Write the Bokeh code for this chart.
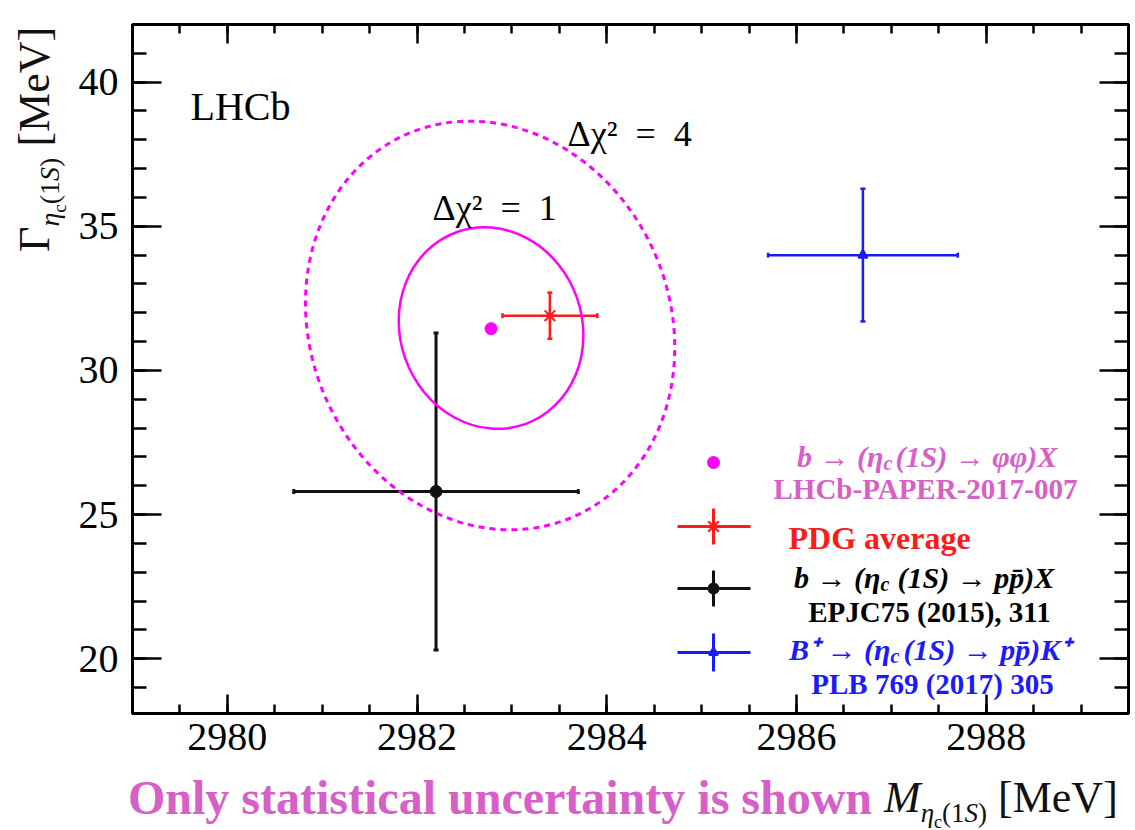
import math
from bokeh.plotting import figure
from bokeh.layouts import row, column
from bokeh.models import (ColumnDataSource, Whisker, TeeHead, Label, LinearAxis,
                          SingleIntervalTicker, Range1d, Div, CustomJSTickFormatter)
from bokeh.embed import file_html
from bokeh.resources import INLINE

# ---------------- data ----------------
X_RANGE = [2979.0, 2989.5]
Y_RANGE = [18.1, 42.0]
X_TICK_STEP = 2
Y_TICK_STEP = 5

# LHCb b -> (eta_c(1S) -> phi phi) X : best-fit point
LHCB_M = [2982.78]
LHCB_G = [31.45]

# PDG average
PDG_M = [2983.4]
PDG_M_ERR = [0.5]
PDG_G = [31.9]
PDG_G_ERR = [0.8]

# b -> (eta_c(1S) -> p pbar) X, EPJC75 (2015) 311
EPJC_M = [2982.2]
EPJC_M_ERR = [1.5]
EPJC_G = [25.8]
EPJC_G_ERR = [5.5]

# B+ -> (eta_c(1S) -> p pbar) K+, PLB 769 (2017) 305
PLB_M = [2986.7]
PLB_M_ERR = [1.0]
PLB_G = [34.0]
PLB_G_ERR = [2.3]

# Delta chi^2 contours: centre, full extent along M and Gamma axes, tilt
SP = "\u2002"
CONT_LABELS = ["Δχ²" + SP + "=" + SP + "1", "Δχ²" + SP + "=" + SP + "4"]
CONT_M = [2982.78, 2982.77]
CONT_G = [31.47, 31.56]
CONT_W = [1.92, 3.79]
CONT_H = [7.07, 14.48]
CONT_ANGLE = [0.34, 0.41]

# ---------------- colours ----------------
MAGENTA = "#ff00ff"
ORCHID = "#d660c8"
RED = "#ff1a1a"
BLUE = "#1a1aff"
BLACK = "#111111"

# ---------------- layout (page pixels) ----------------
W, H = 1135, 830
YDIV_W = 70          # column holding the rotated y title
PLOT_H = 773         # figure height; caption strip below
L, R, T, B = 132, 1128, 24, 713   # frame edges on the page


def px_x(px):
    return X_RANGE[0] + (px - L) * (X_RANGE[1] - X_RANGE[0]) / (R - L)


def px_y(py):
    return Y_RANGE[1] - (py - T) * (Y_RANGE[1] - Y_RANGE[0]) / (B - T)


p = figure(width=W - YDIV_W, height=PLOT_H,
           x_range=Range1d(*X_RANGE), y_range=Range1d(*Y_RANGE),
           output_backend="svg", toolbar_location=None,
           min_border_left=L - YDIV_W, min_border_right=W - R,
           min_border_top=T, min_border_bottom=PLOT_H - B)
p.grid.visible = False
p.outline_line_color = "black"
p.outline_line_width = 3
p.background_fill_color = "white"
p.border_fill_color = "white"


def style_axis(ax, major_in, minor_in, show_labels):
    ax.axis_line_color = "black"
    ax.axis_line_width = 3
    ax.major_tick_line_color = "black"
    ax.minor_tick_line_color = "black"
    ax.major_tick_line_width = 2.5
    ax.minor_tick_line_width = 2.5
    ax.major_tick_in = major_in
    ax.major_tick_out = 0
    ax.minor_tick_in = minor_in
    ax.minor_tick_out = 0
    if show_labels:
        ax.major_label_text_font = "Liberation Serif"
        ax.major_label_text_font_size = "40px"
        ax.major_label_text_color = "black"
    else:
        ax.formatter = CustomJSTickFormatter(code="return ''")
        ax.major_label_standoff = 0


p.xaxis.ticker = SingleIntervalTicker(interval=X_TICK_STEP, num_minor_ticks=4)
p.yaxis.ticker = SingleIntervalTicker(interval=Y_TICK_STEP, num_minor_ticks=5)
style_axis(p.xaxis[0], 19, 9, True)
style_axis(p.yaxis[0], 29, 14, True)
p.xaxis.major_label_standoff = 10
p.yaxis.major_label_standoff = 14

top_ax = LinearAxis(ticker=SingleIntervalTicker(interval=X_TICK_STEP, num_minor_ticks=4))
style_axis(top_ax, 19, 9, False)
p.add_layout(top_ax, "above")
right_ax = LinearAxis(ticker=SingleIntervalTicker(interval=Y_TICK_STEP, num_minor_ticks=5))
style_axis(right_ax, 29, 14, False)
p.add_layout(right_ax, "right")

# ---------------- contours ----------------
p.ellipse(x=[CONT_M[1]], y=[CONT_G[1]], width=[CONT_W[1]], height=[CONT_H[1]],
          angle=[CONT_ANGLE[1]], fill_color=None, line_color=MAGENTA,
          line_width=3, line_dash="6 5")
p.ellipse(x=[CONT_M[0]], y=[CONT_G[0]], width=[CONT_W[0]], height=[CONT_H[0]],
          angle=[CONT_ANGLE[0]], fill_color=None, line_color=MAGENTA,
          line_width=2.5)


# ---------------- error bars ----------------
def errbar(M, Me, G, Ge, color, lw, marker, msize):
    src = ColumnDataSource(dict(
        m=M, g=G,
        ml=[a - b for a, b in zip(M, Me)], mu=[a + b for a, b in zip(M, Me)],
        gl=[a - b for a, b in zip(G, Ge)], gu=[a + b for a, b in zip(G, Ge)]))
    for base, lo, up, dim in (("g", "ml", "mu", "width"), ("m", "gl", "gu", "height")):
        p.add_layout(Whisker(
            source=src, base=base, lower=lo, upper=up, dimension=dim,
            line_color=color, line_width=lw,
            upper_head=TeeHead(size=5, line_color=color, line_width=lw),
            lower_head=TeeHead(size=5, line_color=color, line_width=lw)))
    p.scatter("m", "g", source=src, marker=marker, size=msize,
              fill_color=color, line_color=color, line_width=2)


errbar(EPJC_M, EPJC_M_ERR, EPJC_G, EPJC_G_ERR, BLACK, 3, "circle", 11)
errbar(PLB_M, PLB_M_ERR, PLB_G, PLB_G_ERR, BLUE, 2.5, "triangle", 9)
errbar(PDG_M, PDG_M_ERR, PDG_G, PDG_G_ERR, RED, 2.5, "asterisk", 15)
p.scatter(LHCB_M, LHCB_G, marker="circle", size=12, color=MAGENTA)


# ---------------- text helper (inside the frame) ----------------
def label(px, py, text, size, color="black", style="normal", align="left",
          baseline="alphabetic", font="Liberation Serif"):
    p.add_layout(Label(x=px_x(px), y=px_y(py), text=text, text_font=font,
                       text_font_size=f"{size}px", text_color=color,
                       text_font_style=style, text_align=align,
                       text_baseline=baseline))


label(190, 106, "LHCb", 40)
label(432, 207, CONT_LABELS[0], 36)
label(567, 133, CONT_LABELS[1], 36)

# ---------------- legend (layout in page pixels) ----------------
LEG_X0, LEG_X1, LEG_XC = 677, 750, 713


def leg_sample(py, half_h, color, marker, msize, lw):
    if half_h:
        p.segment(x0=[px_x(LEG_X0)], y0=[px_y(py)], x1=[px_x(LEG_X1)], y1=[px_y(py)],
                  line_color=color, line_width=lw)
        p.segment(x0=[px_x(LEG_XC)], y0=[px_y(py - half_h)], x1=[px_x(LEG_XC)],
                  y1=[px_y(py + half_h)], line_color=color, line_width=lw)
    p.scatter([px_x(LEG_XC)], [px_y(py)], marker=marker, size=msize,
              fill_color=color, line_color=color, line_width=2)


leg_sample(462, 0, MAGENTA, "circle", 11, 3)
leg_sample(526, 18, RED, "asterisk", 15, 3)
leg_sample(588, 18, BLACK, "circle", 10, 3)
leg_sample(652, 19, BLUE, "triangle", 9, 3)


def math_line(x_eta_end, x_after, py, pre, post, color):
    label(x_eta_end, py, pre, 30, color, "bold italic", "right")
    label(x_eta_end, py + 6, "c", 20, color, "bold italic", "left")
    label(x_after, py, post, 30, color, "bold italic", "left")


math_line(883, 895, 456, "b → (η", "(1S) → φφ)X", ORCHID)
label(925, 488, "LHCb-PAPER-2017-007", 29, ORCHID, "bold", "center")
label(788, 537, "PDG average", 32, RED, "bold", "left")
math_line(880, 897, 577, "b → (η", "(1S) → pp̄)X", "black")
label(929, 611, "EPJC75 (2015), 311", 29, "black", "bold", "center")
math_line(890, 903, 649, "B⁺ → (η", "(1S) → pp̄)K⁺", BLUE)
label(932, 683, "PLB 769 (2017) 305", 29, BLUE, "bold", "center")

# ---------------- axis titles and caption (HTML text outside the canvas) ----------------
SERIF = "'Liberation Serif', serif"
y_title = Div(
    width=YDIV_W, height=PLOT_H, margin=0,
    text=(f'<div style="position:relative;width:{YDIV_W}px;height:{PLOT_H}px;">'
          f'<div style="position:absolute;left:13px;top:252px;transform:rotate(-90deg);'
          f'transform-origin:0 0;white-space:nowrap;font-family:{SERIF};font-size:44px;'
          f'line-height:1;color:#111;">Γ<sub style="font-size:28px;line-height:1;">'
          f'<i>η</i><sub style="font-size:19px;line-height:1;">c</sub>(1<i>S</i>)</sub>'
          f' [MeV]</div></div>'))

x_title = Div(
    width=W, height=H - PLOT_H, margin=0,
    text=(f'<div style="position:relative;width:{W}px;height:{H - PLOT_H}px;">'
          f'<div style="position:absolute;left:128px;top:1px;white-space:nowrap;'
          f'font-family:{SERIF};font-weight:bold;font-size:48px;line-height:1;color:{ORCHID};">'
          f'Only statistical uncertainty is shown</div>'
          f'<div style="position:absolute;left:884px;top:3px;white-space:nowrap;'
          f'font-family:{SERIF};font-size:44px;line-height:1;color:#111;">'
          f'<i>M</i><sub style="font-size:27px;line-height:1;"><i>η</i>'
          f'<sub style="font-size:18px;line-height:1;">c</sub>(1<i>S</i>)</sub> [MeV]</div></div>'))

layout = column(row(y_title, p, spacing=0), x_title, spacing=0)

open("out.html", "w").write(file_html(layout, INLINE))
